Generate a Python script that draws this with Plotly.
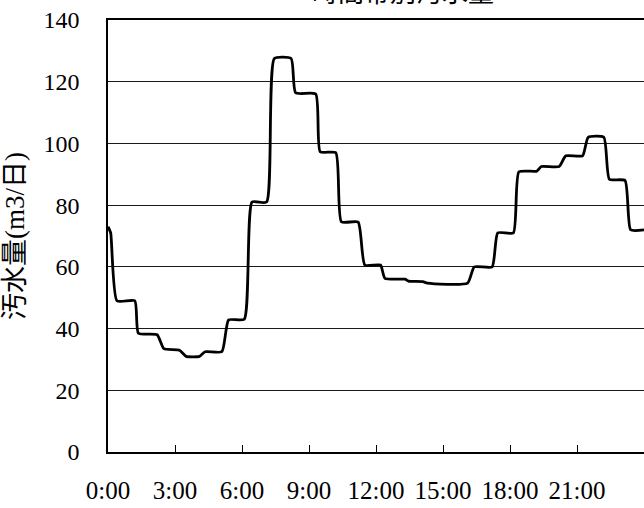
import plotly.graph_objects as go

# Hourly sewage flow through one day (hours since 0:00, m3/day)
hours = [0, 0.12, 0.4, 1.2, 1.36, 2.2, 2.5, 3.2, 3.5, 4.1, 4.35, 5.1, 5.4, 6.1,
         6.45, 7.1, 7.45, 8.2, 8.4, 9.3, 9.5, 10.2, 10.45, 11.2, 11.5, 12.2,
         12.4, 13.3, 13.45, 14.1, 14.3, 16.1, 16.4, 17.2, 17.45, 18.15, 18.4,
         19.2, 19.4, 20.2, 20.5, 21.25, 21.5, 22.2, 22.45, 23.15, 23.4, 24]
flow = [73, 71, 49, 49, 38.5, 38, 33.5, 33, 31, 31, 32.5, 32.5, 42.8, 43,
        81, 81, 127.5, 127.5, 116.4, 116, 97.3, 97, 74.6, 74.5, 60.6, 60.6,
        56.3, 56, 55.4, 55.2, 54.7, 54.7, 60, 60, 71, 71, 90.8, 91,
        92.5, 92.5, 96, 96, 102, 102, 88.4, 88, 72, 72]

tick_hours = [0, 3, 6, 9, 12, 15, 18, 21]
tick_labels = ["0:00", "3:00", "6:00", "9:00", "12:00", "15:00", "18:00", "21:00"]
y_ticks = [0, 20, 40, 60, 80, 100, 120, 140]

title_text = "時間帯別汚水量"
y_title = "汚水量(m3/日)"

FONT = "Liberation Serif, Noto Sans CJK JP, serif"

fig = go.Figure()
fig.add_trace(go.Scatter(
    x=hours, y=flow, mode="lines",
    line=dict(color="black", width=2.8, shape="spline", smoothing=0.5),
    hoverinfo="skip", showlegend=False,
))

fig.update_layout(
    width=644, height=508,
    margin=dict(l=108, r=0, t=20, b=56),
    paper_bgcolor="white", plot_bgcolor="white",
    font=dict(family=FONT, size=22, color="black"),
    showlegend=False,
    xaxis=dict(
        range=[0, 24], tickmode="array", tickvals=tick_hours, ticktext=tick_labels,
        ticks="inside", ticklen=7, tickcolor="black", tickwidth=1,
        showline=True, linecolor="black", linewidth=1.5, mirror=True,
        showgrid=False, zeroline=False, ticklabelstandoff=15,
        tickfont=dict(family=FONT, size=25),
    ),
    yaxis=dict(
        range=[0, 140], tickmode="array", tickvals=y_ticks,
        ticks="", showline=True, linecolor="black", linewidth=1.5,
        showgrid=True, gridcolor="#1a1a1a", gridwidth=1, zeroline=False,
        ticklabelstandoff=22, tickfont=dict(family=FONT, size=24),
        title=dict(text=y_title, standoff=13,
                   font=dict(family=FONT, size=27)),
    ),
    annotations=[dict(
        text=title_text, xref="paper", yref="paper", x=0.55, y=1,
        xanchor="center", yanchor="bottom", yshift=10, showarrow=False,
        font=dict(family=FONT, size=26),
    )],
)

fig.write_html("out.html")
